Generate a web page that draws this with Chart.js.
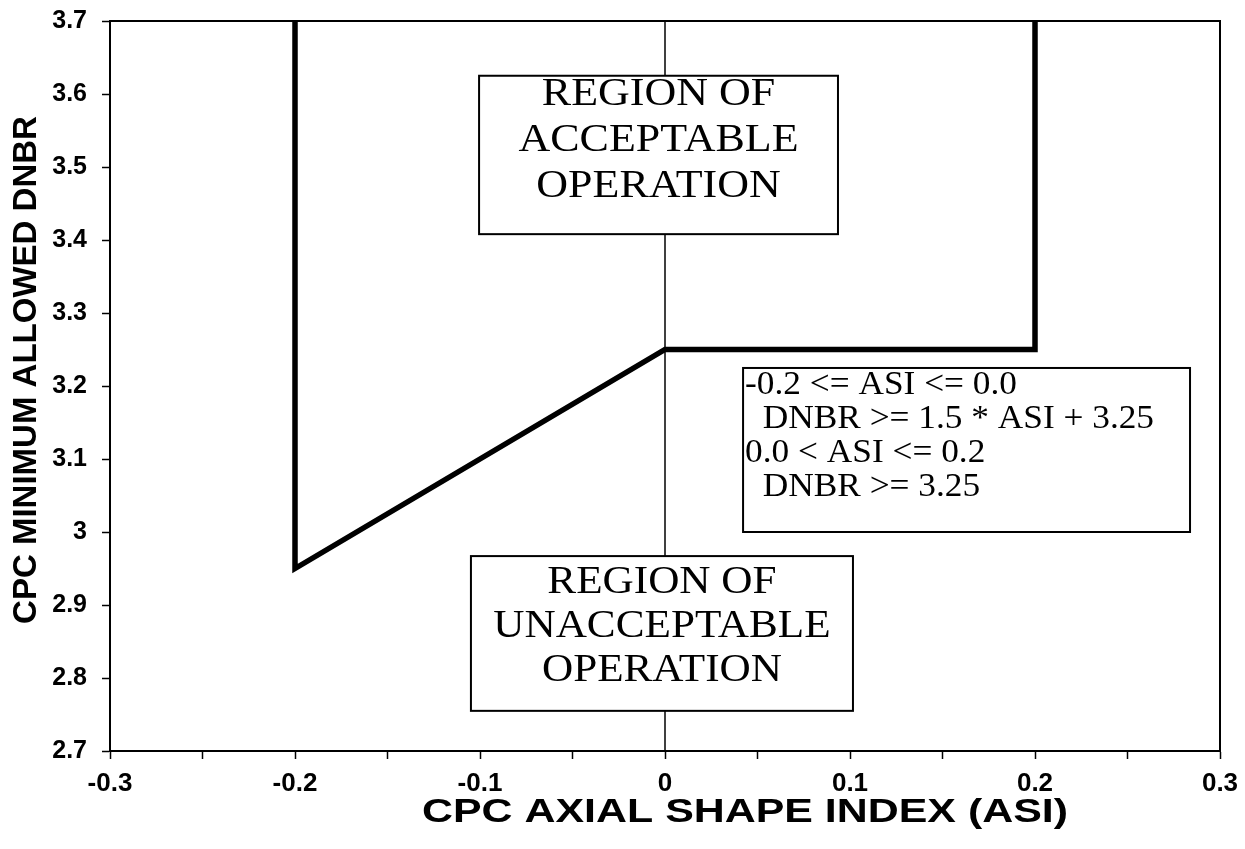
<!DOCTYPE html>
<html>
<head>
<meta charset="utf-8">
<title>CPC minimum allowed DNBR vs ASI</title>
<script src="https://cdn.jsdelivr.net/npm/chart.js@4.4.1/dist/chart.umd.min.js"></script>
<style>
    html, body { margin: 0; padding: 0; background: #fff; }
    #wrap { width: 1245px; height: 849px; position: relative; }
</style>
</head>
<body>
<div id="wrap"><canvas id="graphCanvas"></canvas></div>
<script>
// ==============================
// CPC DNBR limit line vs axial shape index
// ==============================

// limit line: (ASI, DNBR)
const limitAsi = [-0.2, -0.2, 0.0, 0.2, 0.2];
const limitDnbr = [3.7, 2.95, 3.25, 3.25, 3.7];

// thin line at ASI = 0
const zeroAsi = [0.0, 0.0];
const zeroDnbr = [2.7, 3.7];

// tick labels
const xTickLabels = ["-0.3", "-0.2", "-0.1", "0", "0.1", "0.2", "0.3"];
const yTickLabels = ["2.7", "2.8", "2.9", "3", "3.1", "3.2", "3.3", "3.4", "3.5", "3.6", "3.7"];

// axis titles
const xTitle = "CPC AXIAL SHAPE INDEX (ASI)";
const yTitle = "CPC MINIMUM ALLOWED DNBR";

// box texts
const acceptText = ["REGION OF", "ACCEPTABLE", "OPERATION"];
const unacceptText = ["REGION OF", "UNACCEPTABLE", "OPERATION"];
const ruleText = ["-0.2 <= ASI <= 0.0", "  DNBR >= 1.5 * ASI + 3.25", "0.0 < ASI <= 0.2", "  DNBR >= 3.25"];

const toPoints = (xs, ys) => xs.map((x, i) => ({ x, y: ys[i] }));

// frame round the plot area (top and right sides)
const framePlugin = {
    id: "frame",
    afterDatasetsDraw(chart) {
        const { ctx, chartArea: a } = chart;
        ctx.save();
        ctx.strokeStyle = "#000";
        ctx.lineWidth = 2;
        ctx.strokeRect(a.left, a.top, a.right - a.left, a.bottom - a.top);
        ctx.restore();
    }
};

// axis titles, moved off-centre like in the scanned figure
const axisTitlePlugin = {
    id: "axisTitles",
    afterDraw(chart, args, opts) {
        const { ctx, chartArea: a } = chart;
        ctx.save();
        ctx.fillStyle = "#000";
        ctx.textAlign = "center";
        ctx.textBaseline = "middle";
        ctx.font = opts.font;
        // x title
        ctx.save();
        ctx.translate((a.left + a.right) / 2 + opts.xShift, a.bottom + opts.xGap);
        ctx.scale(opts.xStretch, 1);
        ctx.fillText(xTitle, 0, 0);
        ctx.restore();
        // y title
        ctx.save();
        ctx.translate(opts.yPos, (a.top + a.bottom) / 2 + opts.yShift);
        ctx.rotate(-Math.PI / 2);
        ctx.scale(opts.yStretch, 1);
        ctx.fillText(yTitle, 0, 0);
        ctx.restore();
        ctx.restore();
    }
};

// white text boxes placed in data units
const boxPlugin = {
    id: "boxes",
    afterDatasetsDraw(chart, args, opts) {
        const { ctx, scales: { x, y } } = chart;
        opts.items.forEach(b => {
            const l = x.getPixelForValue(b.x0), r = x.getPixelForValue(b.x1);
            const t = y.getPixelForValue(b.y1), btm = y.getPixelForValue(b.y0);
            ctx.save();
            ctx.fillStyle = "#fff";
            ctx.fillRect(l, t, r - l, btm - t);
            ctx.strokeStyle = "#000";
            ctx.lineWidth = 2;
            ctx.strokeRect(l, t, r - l, btm - t);
            ctx.fillStyle = "#000";
            ctx.font = b.font;
            ctx.textBaseline = "middle";
            ctx.textAlign = b.align;
            b.lines.forEach((txt, i) => {
                const tx = b.align === "center" ? (l + r) / 2 : l + b.indent;
                ctx.save();
                ctx.translate(tx, t + b.first + i * b.step);
                ctx.scale(b.sx, 1);
                ctx.fillText(txt, 0, 0);
                ctx.restore();
            });
            ctx.restore();
        });
    }
};

const ctx = document.getElementById("graphCanvas").getContext("2d");

new Chart(ctx, {
    type: "scatter",
    data: {
        datasets: [
            {
                data: toPoints(zeroAsi, zeroDnbr),
                showLine: true,
                borderColor: "#000",
                borderWidth: 1.5,
                pointRadius: 0
            },
            {
                data: toPoints(limitAsi, limitDnbr),
                showLine: true,
                borderColor: "#000",
                borderWidth: 5.5,
                borderJoinStyle: "miter",
                borderCapStyle: "butt",
                pointRadius: 0,
                tension: 0
            }
        ]
    },
    options: {
        responsive: true,
        maintainAspectRatio: false,
        animation: false,
        layout: { padding: { top: 21, right: 25, left: 0, bottom: 0 } },
        plugins: {
            legend: { display: false },
            tooltip: { enabled: false },
            axisTitles: {
                font: "bold 33px 'Liberation Sans', Arial",
                xShift: 80, xGap: 62, xStretch: 1.3,
                yPos: 27, yShift: -16, yStretch: 1.0
            },
            boxes: {
                items: [
                    { x0: -0.1005, x1: 0.0935, y0: 3.408, y1: 3.625, lines: acceptText,
                      font: "40px 'Liberation Serif'", align: "center", sx: 1.1, first: 19, step: 46 },
                    { x0: -0.1049, x1: 0.1016, y0: 2.755, y1: 2.967, lines: unacceptText,
                      font: "40px 'Liberation Serif'", align: "center", sx: 1.08, first: 26, step: 44 },
                    { x0: 0.0422, x1: 0.2838, y0: 3.0, y1: 3.2247, lines: ruleText,
                      font: "33px 'Liberation Serif'", align: "left", sx: 1.07, indent: 2, first: 17, step: 34 }
                ]
            }
        },
        scales: {
            x: {
                type: "linear",
                min: -0.3,
                max: 0.3,
                afterFit: s => { s.height = 98; s.paddingLeft = 0; s.paddingRight = 0; },
                ticks: {
                    stepSize: 0.05,
                    autoSkip: false,
                    maxRotation: 0,
                    padding: 9,
                    color: "#000",
                    font: { family: "'Liberation Sans', Arial", size: 26, weight: "bold" },
                    callback: (v, i) => (i % 2 === 0 ? xTickLabels[i / 2] : "")
                },
                grid: { drawOnChartArea: false, drawTicks: true, tickLength: 8, tickColor: "#000", tickWidth: 1.5 },
                border: { color: "#000", width: 2 },
                title: { display: false }
            },
            y: {
                type: "linear",
                min: 2.7,
                max: 3.7,
                afterFit: s => { s.width = 110; s.paddingTop = 0; s.paddingBottom = 0; },
                ticks: {
                    stepSize: 0.1,
                    autoSkip: false,
                    padding: 15,
                    color: "#000",
                    font: { family: "'Liberation Sans', Arial", size: 25, weight: "bold" },
                    callback: (v, i) => yTickLabels[i]
                },
                grid: { drawOnChartArea: false, drawTicks: true, tickLength: 8, tickColor: "#000", tickWidth: 1.5 },
                border: { color: "#000", width: 2 },
                title: { display: false }
            }
        }
    },
    plugins: [framePlugin, boxPlugin, axisTitlePlugin]
});
</script>
</body>
</html>
